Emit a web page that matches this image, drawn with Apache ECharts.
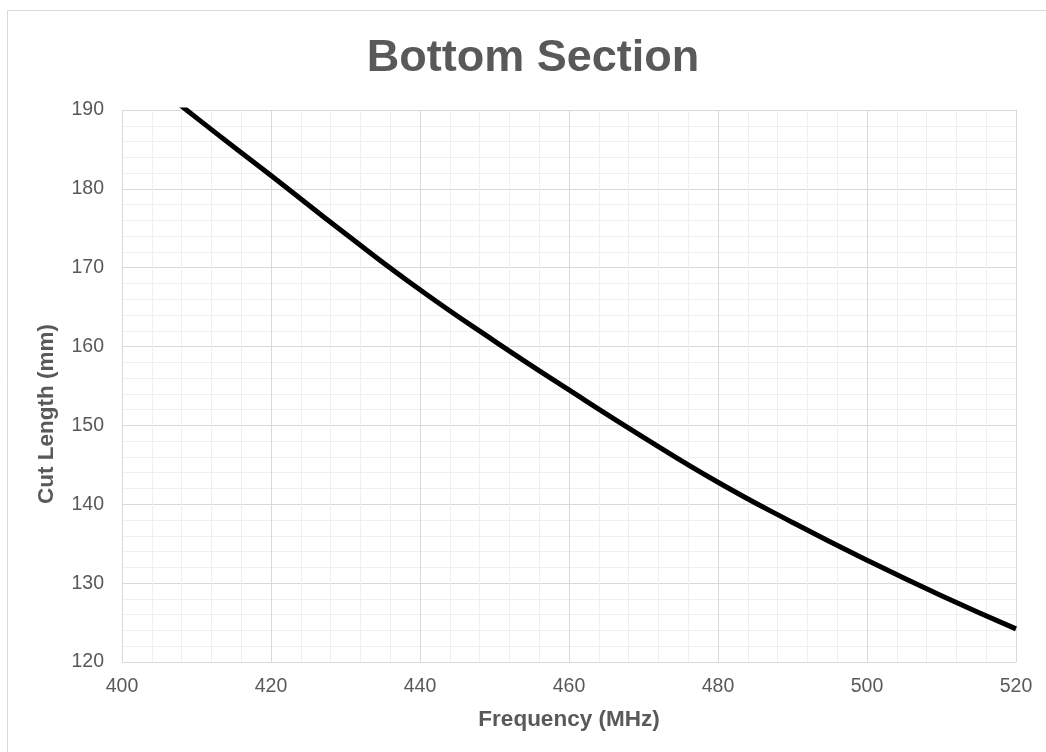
<!DOCTYPE html>
<html>
<head>
<meta charset="utf-8">
<title>Bottom Section</title>
<script src="https://cdn.jsdelivr.net/npm/echarts@6/dist/echarts.min.js"></script>
<style>
  html, body { margin: 0; padding: 0; background: #ffffff; }
  #chart { width: 1046px; height: 752px; }
</style>
</head>
<body>
<div id="chart"></div>
<script>
// Cut length of the bottom section against operating frequency
const frequencyMHz = [400, 410, 420, 430, 440, 450, 460, 470, 480, 490, 500, 510, 520];
const cutLengthMm  = [196.6, 189.0, 181.7, 174.3, 167.2, 160.7, 154.5, 148.5, 142.8, 137.7, 132.9, 128.4, 124.2];

const chartTitle = 'Bottom Section';
const xAxisTitle = 'Frequency (MHz)';
const yAxisTitle = 'Cut Length (mm)';

const xRange = { min: 400, max: 520, step: 20 };
const yRange = { min: 120, max: 190, step: 10 };

const textGrey = '#595959';
const majorGrid = '#d9d9d9';
const minorGrid = '#efefef';
const fontFamily = '"Liberation Sans", Arial, sans-serif';

const points = frequencyMHz.map((f, i) => [f, cutLengthMm[i]]);

const chart = echarts.init(document.getElementById('chart'), null, { renderer: 'canvas' });

chart.setOption({
  animation: false,
  backgroundColor: '#ffffff',
  graphic: [{
    type: 'rect',
    silent: true,
    shape: { x: 7.5, y: 10.5, width: 1100, height: 1000 },
    style: { fill: 'none', stroke: '#d9d9d9', lineWidth: 1 }
  }],
  title: {
    text: chartTitle,
    left: 528,
    top: 31,
    textAlign: 'center',
    textStyle: { color: textGrey, fontSize: 45, fontWeight: 'bold', fontFamily: fontFamily }
  },
  grid: { left: 122, right: 30, top: 110, bottom: 90, containLabel: false },
  xAxis: {
    type: 'value',
    min: xRange.min, max: xRange.max, interval: xRange.step,
    name: xAxisTitle,
    nameLocation: 'middle',
    nameGap: 46,
    nameTextStyle: { color: textGrey, fontSize: 22.5, fontWeight: 'bold', fontFamily: fontFamily },
    axisLine: { show: true, lineStyle: { color: majorGrid, width: 1 } },
    axisTick: { show: false },
    minorTick: { show: false, splitNumber: 5 },
    axisLabel: { color: textGrey, fontSize: 19.5, margin: 15, fontFamily: fontFamily },
    splitLine: { show: true, lineStyle: { color: majorGrid, width: 1 } },
    minorSplitLine: { show: true, lineStyle: { color: minorGrid, width: 1 } }
  },
  yAxis: {
    type: 'value',
    min: yRange.min, max: yRange.max, interval: yRange.step,
    name: yAxisTitle,
    nameLocation: 'middle',
    nameGap: 64,
    nameRotate: 90,
    nameTextStyle: {
      color: textGrey, fontSize: 22.5, fontWeight: 'bold', fontFamily: fontFamily,
      padding: [0, 56, 0, 0]
    },
    axisLine: { show: true, lineStyle: { color: majorGrid, width: 1 } },
    axisTick: { show: false },
    minorTick: { show: false, splitNumber: 5 },
    axisLabel: { color: textGrey, fontSize: 19.5, margin: 18, fontFamily: fontFamily },
    splitLine: { show: true, lineStyle: { color: majorGrid, width: 1 } },
    minorSplitLine: { show: true, lineStyle: { color: minorGrid, width: 1 } }
  },
  series: [{
    type: 'line',
    data: points,
    smooth: true,
    clip: true,
    showSymbol: false,
    lineStyle: { color: '#000000', width: 5 }
  }]
});
</script>
</body>
</html>
